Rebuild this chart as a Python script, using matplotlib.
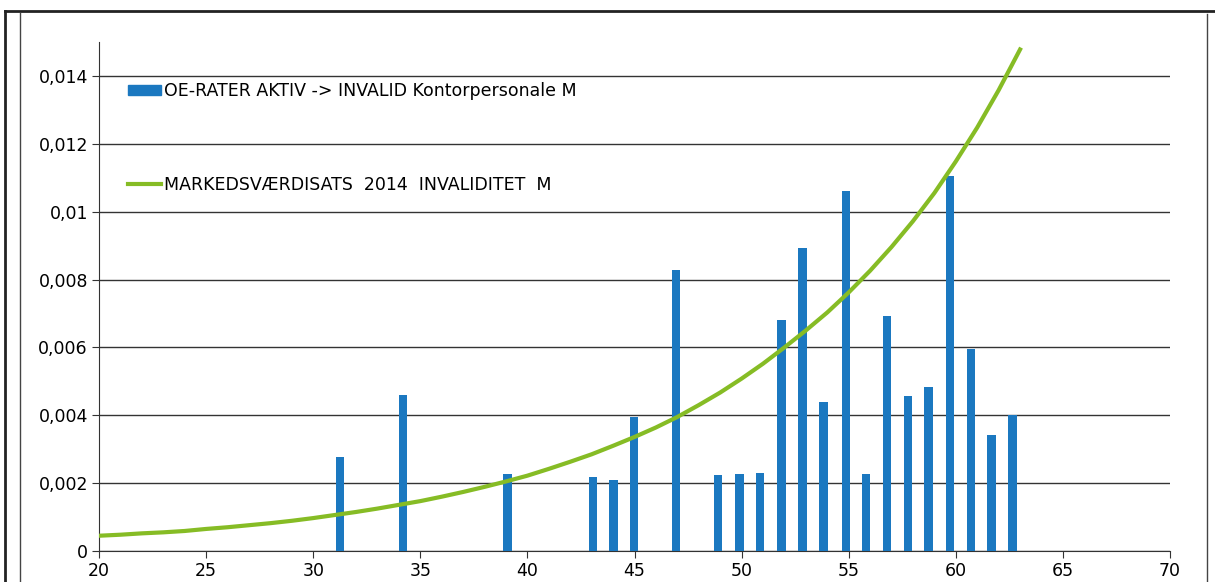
import numpy as np
import matplotlib
matplotlib.use("Agg")
import matplotlib.pyplot as plt
from matplotlib.ticker import FuncFormatter, MultipleLocator
from matplotlib.lines import Line2D
from matplotlib.patches import Patch

bar_age = [31.25, 34.19, 39.07, 43.05, 44.02, 44.99, 46.95, 48.91, 49.91, 50.86,
           51.87, 52.85, 53.82, 54.86, 55.81, 56.78, 57.77, 58.72, 59.73, 60.70,
           61.67, 62.65]
bar_rate = [0.00277, 0.00461, 0.00227, 0.00219, 0.00209, 0.00396, 0.00829, 0.00223,
            0.00226, 0.00230, 0.00680, 0.00893, 0.00440, 0.01061, 0.00226, 0.00692,
            0.00458, 0.00484, 0.01105, 0.00594, 0.00343, 0.00400]

# market value rate curve (green)
curve_age = list(range(20, 64))
curve_rate = [0.00045, 0.00048, 0.00052, 0.00055, 0.00059, 0.00065, 0.00070, 0.00076,
              0.00082, 0.00089, 0.00097, 0.00106, 0.00115, 0.00125, 0.00136, 0.00147,
              0.00160, 0.00174, 0.00189, 0.00205, 0.00222, 0.00242, 0.00263, 0.00285,
              0.00310, 0.00336, 0.00364, 0.00395, 0.00430, 0.00467, 0.00508, 0.00552,
              0.00600, 0.00650, 0.00703, 0.00762, 0.00826, 0.00896, 0.00972, 0.01055,
              0.01148, 0.01248, 0.01358, 0.01478]

label_bar = "OE-RATER AKTIV -> INVALID Kontorpersonale M"
label_line = "MARKEDSVÆRDISATS  2014  INVALIDITET  M"

bar_col = "#1b78c0"
line_col = "#86bc25"

fig = plt.figure(figsize=(12.15, 5.82), dpi=100)
ax = fig.add_axes([99/1215, 1-551/582, (1170-99)/1215, (551-42)/582])

ax.bar(bar_age, bar_rate, width=0.39, color=bar_col, zorder=3)
ax.plot(curve_age, curve_rate, color=line_col, lw=3, zorder=4)

ax.set_xlim(20, 70)
ax.set_ylim(0, 0.015)
ax.xaxis.set_major_locator(MultipleLocator(5))
ax.set_yticks(np.arange(0, 0.0141, 0.002))
ax.yaxis.set_major_formatter(FuncFormatter(lambda v, p: f"{v:g}".replace(".", ",")))
ax.tick_params(labelsize=12.5, length=5, color="#333333", pad=3)
ax.grid(axis="y", color="#333333", lw=1, zorder=1)
for s in ["top", "right"]:
    ax.spines[s].set_visible(False)
for s in ["left", "bottom"]:
    ax.spines[s].set_color("#333333")

handles = [Patch(color=bar_col), Line2D([], [], color=line_col, lw=3)]
ax.legend(handles, [label_bar, label_line], loc="upper left", frameon=False,
          bbox_to_anchor=(0.0125, 0.952), fontsize=12.5, labelspacing=4.35,
          handlelength=1.9, handleheight=0.45, handletextpad=0.2)

# page frame from the scan
fig.add_artist(Line2D([5/1215, 1], [1-11/582]*2, transform=fig.transFigure, color="#222222", lw=2))
fig.add_artist(Line2D([5/1215]*2, [0, 1-11/582], transform=fig.transFigure, color="#222222", lw=2))
fig.add_artist(Line2D([20/1215]*2, [0, 1-13/582], transform=fig.transFigure, color="#444444", lw=1))
fig.add_artist(Line2D([1207/1215]*2, [0, 1-14/582], transform=fig.transFigure, color="#444444", lw=1))

fig.savefig("out.png", dpi=100)
